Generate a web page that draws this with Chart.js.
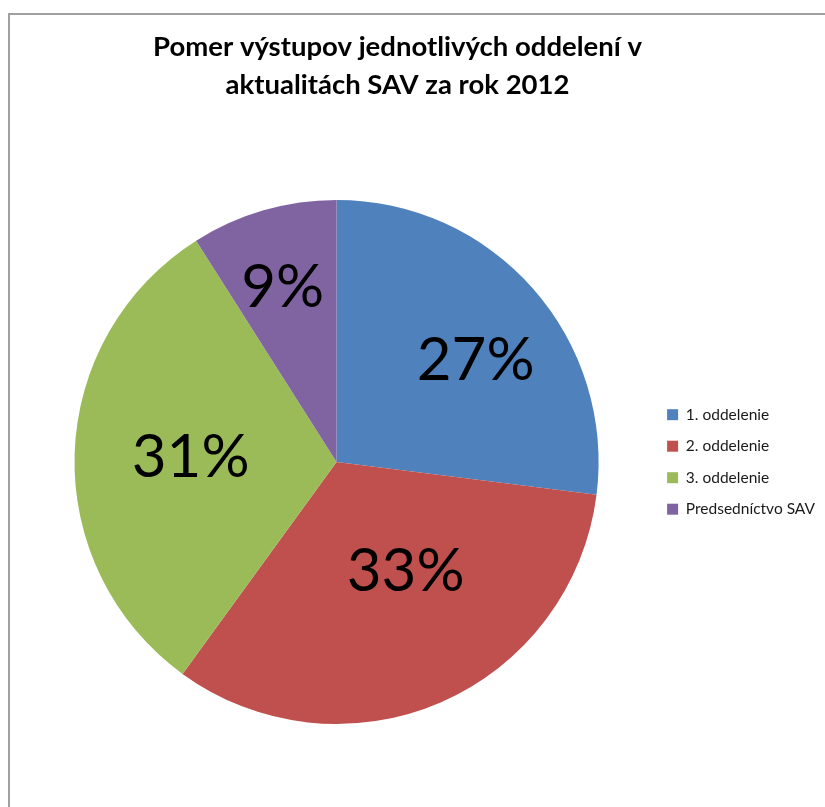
<!DOCTYPE html>
<html>
<head>
<meta charset="utf-8">
<script src="https://cdn.jsdelivr.net/npm/chart.js@4"></script>
<style>
  html, body { margin: 0; padding: 0; background: #fff; overflow: hidden; }
  #frame { position: absolute; left: 8px; top: 13px; width: 900px; height: 900px;
           border-left: 2px solid #a0a0a0; border-top: 2px solid #a0a0a0; }
  #pie { position: absolute; left: 0; top: 0; }
</style>
</head>
<body>
<div id="frame"></div>
<canvas id="pie" width="825" height="807"></canvas>
<script>
// Data
const titleLines = ['Pomer výstupov jednotlivých oddelení v', 'aktualitách SAV za rok 2012'];
const departments = ['1. oddelenie', '2. oddelenie', '3. oddelenie', 'Predsedníctvo SAV'];
const shares = [27, 33, 31, 9];
const sliceColors = ['#4f81bd', '#c0504d', '#9bbb59', '#8064a2'];

// Label placement inside slices (radius fraction, angle nudge in degrees)
const labelRadius = [0.656, 0.496, 0.557, 0.695];
const labelNudge = [5.4, -8.7, -0.2, -1.0];

const sliceLabels = {
    id: 'sliceLabels',
    afterDatasetsDraw(chart) {
        const { ctx } = chart;
        const meta = chart.getDatasetMeta(0);
        ctx.save();
        ctx.fillStyle = '#000';
        ctx.font = "60px Lato";
        ctx.textAlign = 'center';
        ctx.textBaseline = 'middle';
        meta.data.forEach((arc, i) => {
            const { x, y, startAngle, endAngle, outerRadius } = arc.getProps(['x', 'y', 'startAngle', 'endAngle', 'outerRadius'], true);
            const a = (startAngle + endAngle) / 2 + labelNudge[i] * Math.PI / 180;
            const r = outerRadius * labelRadius[i];
            ctx.fillText(shares[i] + '%', x + Math.cos(a) * r, y + Math.sin(a) * r);
        });
        ctx.restore();
    }
};

// Excel centers the title a bit left of the full chart width
const titleShift = {
    id: 'titleShift',
    afterLayout(chart) {
        chart.titleBlock.left -= 26;
        chart.titleBlock.right -= 26;
    }
};

new Chart(document.getElementById('pie'), {
    type: 'pie',
    data: {
        labels: departments,
        datasets: [{
            data: shares,
            backgroundColor: sliceColors,
            borderWidth: 0,
            hoverOffset: 0
        }]
    },
    options: {
        responsive: false,
        animation: false,
        events: [],
        layout: { padding: { left: 22, right: 0, top: 0, bottom: 83 } },
        plugins: {
            title: {
                display: true,
                text: titleLines,
                color: '#000',
                font: { family: 'Lato', size: 27.5, weight: 'bold', lineHeight: 1.38 },
                padding: { top: 28, bottom: 96 }
            },
            legend: {
                position: 'right',
                align: 'center',
                fullSize: false,
                labels: {
                    boxWidth: 11,
                    boxHeight: 11,
                    padding: 16,
                    color: '#1a1a1a',
                    font: { family: 'Lato', size: 15.5 }
                }
            },
            tooltip: { enabled: false }
        }
    },
    plugins: [sliceLabels, titleShift]
});
</script>
</body>
</html>
